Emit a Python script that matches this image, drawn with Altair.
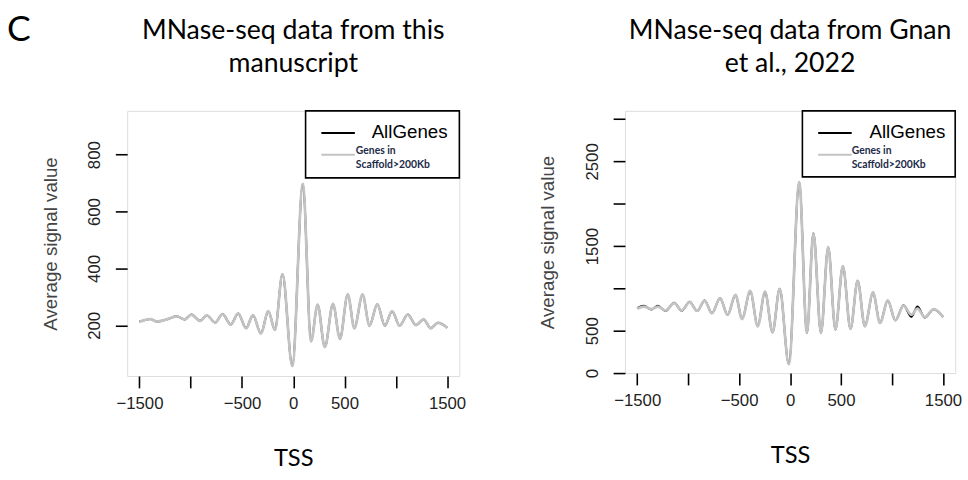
import altair as alt
import pandas as pd

# ---------------- data ----------------
series_names = ["AllGenes", "Genes in Scaffold>200Kb"]
x_ticks = [-1500, -1000, -500, 0, 500, 1000, 1500]
x_labels_shown = [-1500, -500, 0, 500, 1500]

# Left panel: MNase-seq data from this manuscript
left_pos = [-1500, -1394, -1330, -1234, -1138, -1059, -994, -908, -844, -761,
            -690, -610, -537, -460, -393, -316, -243, -179, -105, -9,
            93, 174, 237, 308, 388, 455, 532, 596, 676, 743,
            820, 893, 964, 1037, 1117, 1197, 1271, 1341, 1412, 1500]
left_scaffold = [213, 222, 213, 221, 232, 221, 238, 216, 235, 210,
                 240, 203, 242, 190, 236, 172, 250, 184, 380, 57,
                 697, 144, 273, 124, 276, 153, 309, 190, 309, 199,
                 274, 199, 250, 199, 238, 201, 221, 190, 209, 192]
left_all = [213, 222, 213, 221, 232, 221, 238, 216, 235, 210,
            240, 203, 242, 190, 236, 172, 250, 184, 380, 57,
            697, 144, 273, 124, 276, 153, 309, 190, 309, 199,
            274, 199, 250, 199, 238, 201, 221, 190, 209, 192]
left_y_ticks = [200, 400, 600, 800]
left_y_labels = [200, 400, 600, 800]

# Right panel: MNase-seq data from Gnan et al., 2022
right_pos = [-1500, -1435, -1362, -1297, -1223, -1137, -1063, -986, -912, -838,
             -767, -687, -613, -536, -471, -391, -317, -246, -172, -102,
             -12, 90, 165, 229, 303, 374, 445, 518, 593, 663,
             734, 814, 882, 959, 1033, 1113, 1190, 1250, 1322, 1409, 1500]
right_scaffold = [759, 786, 755, 786, 739, 825, 739, 837, 736, 853,
                  708, 883, 689, 923, 638, 970, 553, 961, 482, 995,
                  105, 2255, 474, 1651, 474, 1487, 514, 1262, 521, 1090,
                  553, 953, 591, 856, 623, 798, 689, 760, 661, 755, 665]
right_all = [768, 794, 750, 794, 733, 831, 734, 843, 732, 856,
             706, 885, 688, 923, 638, 970, 553, 961, 482, 995,
             105, 2255, 474, 1651, 474, 1487, 514, 1262, 521, 1090,
             553, 953, 591, 856, 623, 800, 664, 786, 655, 755, 665]
right_y_ticks = [0, 500, 1000, 1500, 2000, 2500, 3000]
right_y_labels = [0, 500, 1500, 2500]

titles = [["MNase-seq data from this", "manuscript"],
          ["MNase-seq data from Gnan", "et al., 2022"]]
panel_letter = "C"

AXIS_FONT = "Liberation Sans"
TEXT_FONT = "Lato"
GRAY = "#c3c3c3"


def label_expr(values):
    return ("indexof([" + ",".join(str(v) for v in values) +
            "], datum.value) >= 0 ? format(datum.value, 'd') : ''")


def panel(pos, all_vals, scaf_vals, ydom, yticks, ylabels, title, w, h,
          leg_box, leg_line_x, leg_text_x):
    df = pd.DataFrame({"pos": pos, "all": all_vals, "scaf": scaf_vals})
    xs = alt.Scale(domain=[-1620, 1620], nice=False, zero=False)
    ys = alt.Scale(domain=ydom, nice=False, zero=False)
    xax = alt.Axis(values=x_ticks, labelExpr=label_expr(x_labels_shown), title="TSS",
                   grid=False, domain=False, tickSize=12, tickWidth=1.6, tickColor="black",
                   labelFont=AXIS_FONT, labelFontSize=17, labelColor="#222222",
                   labelPadding=8, labelFlush=False, labelOverlap=False,
                   titleFont=TEXT_FONT, titleFontSize=24, titleFontWeight="normal",
                   titleColor="black", titlePadding=36)
    yax = alt.Axis(values=yticks, labelExpr=label_expr(ylabels), title="Average signal value",
                   grid=False, domain=False, tickSize=12, tickWidth=1.6, tickColor="black",
                   labelFont=AXIS_FONT, labelFontSize=17, labelColor="#222222",
                   labelAngle=270, labelAlign="center", labelBaseline="bottom",
                   labelPadding=12, labelFlush=False, labelOverlap=False,
                   titleFont=AXIS_FONT, titleFontSize=19, titleFontWeight="normal",
                   titleColor="#444444", titlePadding=26)
    base = alt.Chart(df)
    black = base.mark_line(color="black", strokeWidth=2, interpolate="monotone").encode(
        x=alt.X("pos:Q", scale=xs, axis=xax), y=alt.Y("all:Q", scale=ys, axis=yax))
    gray = base.mark_line(color=GRAY, strokeWidth=2.8, interpolate="monotone").encode(
        x=alt.X("pos:Q", scale=xs), y=alt.Y("scaf:Q", scale=ys))

    bx0, bx1, by1 = leg_box
    box = alt.Chart(pd.DataFrame({"k": [0]})).mark_rect(
        fill="white", stroke="black", strokeWidth=1.6).encode(
        x=alt.value(bx0), x2=alt.value(bx1), y=alt.value(0), y2=alt.value(by1))
    leg_lines = pd.DataFrame({"series": series_names, "yy": [22.5, 44.5]})
    lines = alt.Chart(leg_lines).mark_rule(strokeWidth=2).encode(
        x=alt.value(leg_line_x[0]), x2=alt.value(leg_line_x[1]),
        y=alt.Y("yy:Q", scale=None),
        color=alt.Color("series:N", scale=alt.Scale(domain=series_names, range=["black", GRAY]),
                        legend=None))
    t1 = alt.Chart(pd.DataFrame({"t": [series_names[0]]})).mark_text(
        font=AXIS_FONT, fontSize=19, align="left", baseline="middle", color="black").encode(
        text="t:N", x=alt.value(leg_text_x[0]), y=alt.value(22))
    sub = series_names[1].split(" Scaffold")
    t2 = alt.Chart(pd.DataFrame({"t": [sub[0], "Scaffold" + sub[1]], "yy": [41, 55]})).mark_text(
        font=TEXT_FONT, fontSize=10.5, fontWeight="bold", align="left", baseline="middle",
        color="#1c2a48").encode(text="t:N", x=alt.value(leg_text_x[1]), y=alt.Y("yy:Q", scale=None))

    return alt.layer(black, gray, box, lines, t1, t2).properties(
        width=w, height=h,
        title=alt.TitleParams(title, font=TEXT_FONT, fontSize=27, fontWeight="normal",
                              color="black", anchor="middle", lineHeight=33, offset=33))


letter = alt.Chart(pd.DataFrame({"t": [panel_letter]})).mark_text(
    font=TEXT_FONT, fontSize=36, align="left", baseline="alphabetic", color="black").encode(
    text="t:N", x=alt.value(0), y=alt.value(-71)
).properties(width=30, height=1, view=alt.ViewBackground(stroke="transparent"))

left = panel(left_pos, left_all, left_scaffold, [22, 954], left_y_ticks, left_y_labels,
             titles[0], 337, 269, (181, 337, 68), (197, 231), (248, 232))
right = panel(right_pos, right_all, right_scaffold, [0, 3097], right_y_ticks, right_y_labels,
              titles[1], 335, 266, (180, 335, 67), (196, 230), (248, 230))

chart = alt.hconcat(alt.hconcat(letter, left, spacing=3), right, spacing=73).properties(
    padding={"left": 6, "top": 8, "right": 5, "bottom": 5}
).configure_view(stroke="black", strokeWidth=2).configure(background="white")

chart.save("out.html", embed_options={"renderer": "svg", "actions": False})
